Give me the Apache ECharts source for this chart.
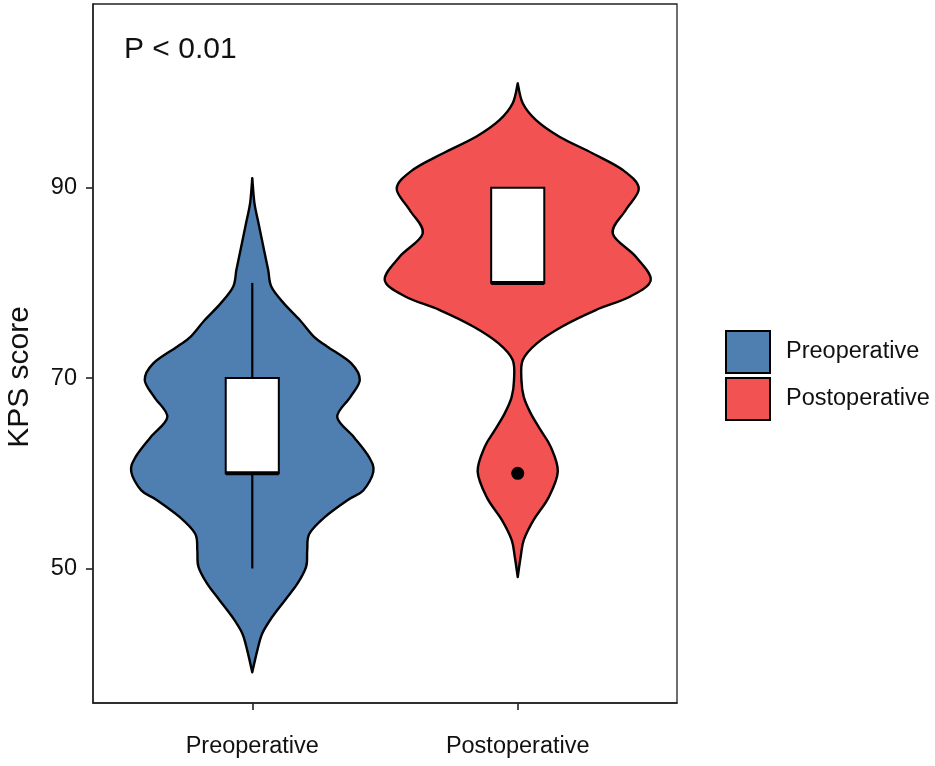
<!DOCTYPE html>
<html><head><meta charset="utf-8">
<script src="https://cdn.jsdelivr.net/npm/echarts@6/dist/echarts.min.js"></script>
<style>html,body{margin:0;padding:0;background:#fff}#c{width:935px;height:766px}</style>
</head><body><div id="c"></div>
<script>
// ---- data ----
const categories = ['Preoperative', 'Postoperative'];
const categoryPositions = [1, 2];
const yTicks = [50, 70, 90];

// violin outlines: KPS value and half-width of the density (x-axis units)
const preDensityY = [39.1, 41.4, 43.2, 44.9, 46.7, 48.4, 50.2, 51.9, 53.65, 55.4, 57.2, 58.2, 60.15, 61.7, 63.8, 65.9, 68.0, 69.8, 71.55, 73.3, 74.3, 76.1, 77.85, 79.6, 81.35, 83.1, 84.85, 86.6, 88.4, 91.0];
const preHalfWidth = [0, 0.019, 0.038, 0.075, 0.124, 0.170, 0.203, 0.207, 0.215, 0.273, 0.360, 0.418, 0.456, 0.440, 0.383, 0.320, 0.369, 0.405, 0.373, 0.283, 0.234, 0.179, 0.119, 0.072, 0.060, 0.047, 0.034, 0.021, 0.008, 0];
const postDensityY = [49.1, 51.2, 53.0, 55.1, 57.5, 60.2, 62.8, 64.5, 66.3, 68.0, 69.8, 71.9, 73.65, 75.4, 77.15, 78.55, 80.3, 82.75, 85.2, 87.66, 89.93, 91.86, 93.6, 95.36, 97.1, 98.87, 100.97];
const postHalfWidth = [0, 0.011, 0.023, 0.060, 0.117, 0.151, 0.124, 0.087, 0.049, 0.023, 0.014, 0.019, 0.072, 0.166, 0.294, 0.422, 0.501, 0.445, 0.358, 0.407, 0.456, 0.396, 0.283, 0.157, 0.069, 0.019, 0];

// boxplot stats: [lower whisker, Q1, median, Q3, upper whisker]
const preBox = [50, 60, 60, 70, 80];
const postBox = [80, 80, 80, 90, 90];
const preOutliers = [];
const postOutliers = [60];

const annotation = 'P < 0.01';
const yTitle = 'KPS score';
const colors = ['#4F7EB0', '#F25252'];
const FONT = '"Liberation Sans", Arial, sans-serif';
const BOX_HALF = 0.1;

const groups = [
  { y: preDensityY, w: preHalfWidth, box: preBox, out: preOutliers },
  { y: postDensityY, w: postHalfWidth, box: postBox, out: postOutliers }
];

function segs(pts) {
  let d = '';
  const n = pts.length;
  for (let i = 0; i < n - 1; i++) {
    const p0 = pts[Math.max(i - 1, 0)], p1 = pts[i], p2 = pts[i + 1], p3 = pts[Math.min(i + 2, n - 1)];
    const c1 = [p1[0] + (p2[0] - p0[0]) / 6, p1[1] + (p2[1] - p0[1]) / 6];
    const c2 = [p2[0] - (p3[0] - p1[0]) / 6, p2[1] - (p3[1] - p1[1]) / 6];
    d += ' C' + c1[0].toFixed(2) + ' ' + c1[1].toFixed(2) + ' ' + c2[0].toFixed(2) + ' ' + c2[1].toFixed(2) + ' ' + p2[0].toFixed(2) + ' ' + p2[1].toFixed(2);
  }
  return d;
}

function renderItem(params, api) {
  const g = groups[params.seriesIndex];
  const xc = api.value(0);
  const color = colors[params.seriesIndex];
  const right = g.y.map((v, i) => api.coord([xc + g.w[i], v]));
  const left = g.y.map((v, i) => api.coord([xc - g.w[i], v])).reverse();
  const d = 'M' + right[0][0].toFixed(2) + ' ' + right[0][1].toFixed(2) + segs(right) + segs(left) + ' Z';
  const children = [];
  children.push({ type: 'path', shape: { pathData: d }, style: { fill: color, stroke: '#000', lineWidth: 2.4, lineJoin: 'round' } });
  const b = g.box;
  const pUp1 = api.coord([xc, b[3]]), pUp2 = api.coord([xc, b[4]]);
  const pLo1 = api.coord([xc, b[1]]), pLo2 = api.coord([xc, b[0]]);
  children.push({ type: 'line', shape: { x1: pUp1[0], y1: pUp1[1], x2: pUp2[0], y2: pUp2[1] }, style: { stroke: '#000', lineWidth: 2.2 } });
  children.push({ type: 'line', shape: { x1: pLo1[0], y1: pLo1[1], x2: pLo2[0], y2: pLo2[1] }, style: { stroke: '#000', lineWidth: 2.2 } });
  const tl = api.coord([xc - BOX_HALF, b[3]]), br = api.coord([xc + BOX_HALF, b[1]]);
  children.push({ type: 'rect', shape: { x: tl[0], y: tl[1], width: br[0] - tl[0], height: br[1] - tl[1] }, style: { fill: '#fff', stroke: '#000', lineWidth: 2 } });
  const ml = api.coord([xc - BOX_HALF, b[2]]), mr = api.coord([xc + BOX_HALF, b[2]]);
  children.push({ type: 'line', shape: { x1: ml[0], y1: ml[1], x2: mr[0], y2: mr[1] }, style: { stroke: '#000', lineWidth: 4 } });
  g.out.forEach(v => {
    const p = api.coord([xc, v]);
    children.push({ type: 'circle', shape: { cx: p[0], cy: p[1], r: 6.5 }, style: { fill: '#000' } });
  });
  return { type: 'group', children: children };
}

const chart = echarts.init(document.getElementById('c'), null, { renderer: 'canvas' });
chart.setOption({
  animation: false,
  backgroundColor: '#fff',
  textStyle: { fontFamily: FONT },
  grid: { left: 93, right: 258, top: 4, bottom: 63, outerBoundsMode: 'none', containLabel: false, show: true, borderColor: '#222', borderWidth: 1.3, backgroundColor: 'transparent' },
  xAxis: {
    type: 'value', min: 0.4, max: 2.6,
    axisLine: { show: true, lineStyle: { color: '#222', width: 1.5 } },
    axisTick: { show: true, length: 7, lineStyle: { color: '#222', width: 1.6 }, customValues: categoryPositions },
    axisLabel: { customValues: categoryPositions, formatter: v => categories[Math.round(v) - 1], fontSize: 23.5, color: '#111', fontFamily: FONT, margin: 32 },
    splitLine: { show: false }
  },
  yAxis: {
    type: 'value', min: 35.87, max: 109.3,
    axisLine: { show: true, lineStyle: { color: '#222', width: 1.5 } },
    axisTick: { show: true, length: 7, lineStyle: { color: '#222', width: 1.6 }, customValues: yTicks },
    axisLabel: { customValues: yTicks, fontSize: 23.5, color: '#111', fontFamily: FONT, margin: 16 },
    splitLine: { show: false }
  },
  legend: {
    orient: 'vertical', left: 725, top: 330, padding: 0,
    itemWidth: 44, itemHeight: 42, itemGap: 3, icon: 'rect',
    itemStyle: { borderColor: '#000', borderWidth: 2 },
    textStyle: { fontSize: 23.5, color: '#111', fontFamily: FONT, padding: [0, 0, 0, 11] },
    data: categories
  },
  graphic: [
    { type: 'text', x: 124, y: 50, style: { text: annotation, font: '30px ' + FONT, fill: '#111', verticalAlign: 'middle' } },
    { type: 'text', x: 20, y: 377, rotation: Math.PI / 2, style: { text: yTitle, font: '30px ' + FONT, fill: '#111', align: 'center', verticalAlign: 'middle' } }
  ],
  series: categories.map((name, i) => ({
    type: 'custom', name: name,
    itemStyle: { color: colors[i] },
    renderItem: renderItem,
    data: [[categoryPositions[i]]],
    encode: { x: 0 },
    clip: false
  }))
});
</script>
</body></html>
